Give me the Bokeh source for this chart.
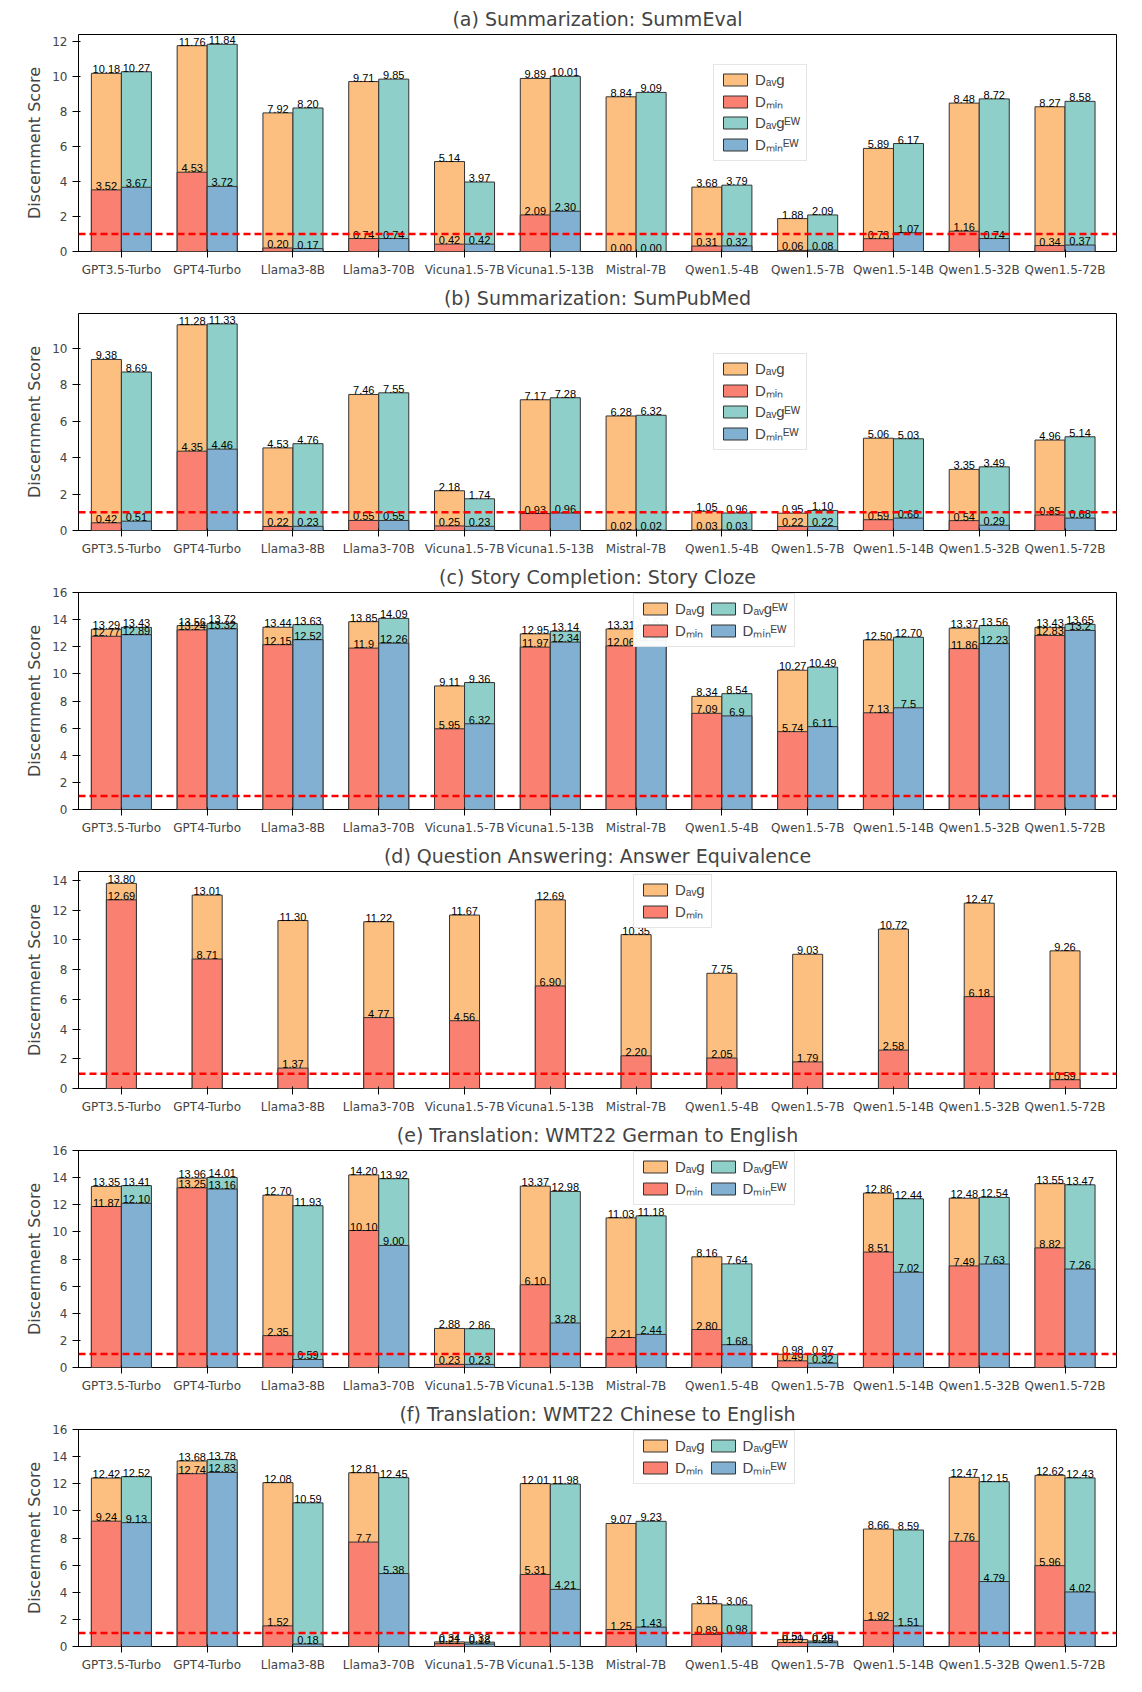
from bokeh.plotting import figure
from bokeh.layouts import column
from bokeh.models import ColumnDataSource, Span, Legend, LegendItem, FixedTicker
from bokeh.embed import file_html
from bokeh.resources import INLINE

models = ["GPT3.5-Turbo", "GPT4-Turbo", "Llama3-8B", "Llama3-70B", "Vicuna1.5-7B", "Vicuna1.5-13B",
          "Mistral-7B", "Qwen1.5-4B", "Qwen1.5-7B", "Qwen1.5-14B", "Qwen1.5-32B", "Qwen1.5-72B"]

# (a) SummEval
a_avg = [10.18, 11.76, 7.92, 9.71, 5.14, 9.89, 8.84, 3.68, 1.88, 5.89, 8.48, 8.27]
a_min = [3.52, 4.53, 0.20, 0.74, 0.42, 2.09, 0.00, 0.31, 0.06, 0.73, 1.16, 0.34]
a_ew_avg = [10.27, 11.84, 8.20, 9.85, 3.97, 10.01, 9.09, 3.79, 2.09, 6.17, 8.72, 8.58]
a_ew_min = [3.67, 3.72, 0.17, 0.74, 0.42, 2.30, 0.00, 0.32, 0.08, 1.07, 0.74, 0.37]
# (b) SumPubMed
b_avg = [9.38, 11.28, 4.53, 7.46, 2.18, 7.17, 6.28, 1.05, 0.95, 5.06, 3.35, 4.96]
b_min = [0.42, 4.35, 0.22, 0.55, 0.25, 0.93, 0.02, 0.03, 0.22, 0.59, 0.54, 0.85]
b_ew_avg = [8.69, 11.33, 4.76, 7.55, 1.74, 7.28, 6.32, 0.96, 1.10, 5.03, 3.49, 5.14]
b_ew_min = [0.51, 4.46, 0.23, 0.55, 0.23, 0.96, 0.02, 0.03, 0.22, 0.68, 0.29, 0.68]
# (c) Story Cloze
c_avg = [13.29, 13.56, 13.44, 13.85, 9.11, 12.95, 13.31, 8.34, 10.27, 12.50, 13.37, 13.43]
c_min = [12.77, 13.24, 12.15, 11.9, 5.95, 11.97, 12.06, 7.09, 5.74, 7.13, 11.86, 12.83]
c_ew_avg = [13.43, 13.72, 13.63, 14.09, 9.36, 13.14, 13.51, 8.54, 10.49, 12.70, 13.56, 13.65]
c_ew_min = [12.89, 13.32, 12.52, 12.26, 6.32, 12.34, 12.43, 6.9, 6.11, 7.5, 12.23, 13.2]
# (d) Answer Equivalence
d_avg = [13.80, 13.01, 11.30, 11.22, 11.67, 12.69, 10.35, 7.75, 9.03, 10.72, 12.47, 9.26]
d_min = [12.69, 8.71, 1.37, 4.77, 4.56, 6.90, 2.20, 2.05, 1.79, 2.58, 6.18, 0.59]
# (e) WMT22 German to English
e_avg = [13.35, 13.96, 12.70, 14.20, 2.88, 13.37, 11.03, 8.16, 0.98, 12.86, 12.48, 13.55]
e_min = [11.87, 13.25, 2.35, 10.10, 0.23, 6.10, 2.21, 2.80, 0.49, 8.51, 7.49, 8.82]
e_ew_avg = [13.41, 14.01, 11.93, 13.92, 2.86, 12.98, 11.18, 7.64, 0.97, 12.44, 12.54, 13.47]
e_ew_min = [12.10, 13.16, 0.59, 9.00, 0.23, 3.28, 2.44, 1.68, 0.32, 7.02, 7.63, 7.26]
# (f) WMT22 Chinese to English
f_avg = [12.42, 13.68, 12.08, 12.81, 0.34, 12.01, 9.07, 3.15, 0.51, 8.66, 12.47, 12.62]
f_min = [9.24, 12.74, 1.52, 7.7, 0.21, 5.31, 1.25, 0.89, 0.29, 1.92, 7.76, 5.96]
f_ew_avg = [12.52, 13.78, 10.59, 12.45, 0.32, 11.98, 9.23, 3.06, 0.40, 8.59, 12.15, 12.43]
f_ew_min = [9.13, 12.83, 0.18, 5.38, 0.18, 4.21, 1.43, 0.98, 0.28, 1.51, 4.79, 4.02]

# min labels printed with one decimal in the original (c: Story Cloze, f: Chinese)
short_c_min = {3: "11.9"}
short_c_ew_min = {7: "6.9", 9: "7.5", 11: "13.2"}
short_f_min = {3: "7.7"}

C_AVG, C_MIN, C_EWAVG, C_EWMIN = "#FDBF7F", "#FA8072", "#8ECFC9", "#82B0D2"
FONT = "DejaVu Sans"
W = 0.35


def labels(vals, short=None):
    short = short or {}
    return [short.get(i, f"{v:.2f}") for i, v in enumerate(vals)]


def panel(title, ymax, yticks, avg, mn, ew_avg=None, ew_min=None, legend_cols=1,
          legend_loc=(630, 90), short_min=None, short_ew_min=None):
    p = figure(width=1126, height=279, x_range=(-0.5, 11.6), y_range=(0, ymax),
               output_backend="svg", toolbar_location=None, min_border_left=78,
               min_border_right=10, min_border_top=4, min_border_bottom=4)
    p.title.text = title
    p.title.align = "center"
    p.title.text_font = FONT
    p.title.text_font_size = "19px"
    p.title.text_font_style = "normal"
    p.grid.visible = False
    p.outline_line_color = "black"
    p.yaxis.axis_label = "Discernment Score"
    p.yaxis.axis_label_text_font = FONT
    p.yaxis.axis_label_text_font_size = "16px"
    p.yaxis.axis_label_text_font_style = "normal"
    p.yaxis.ticker = FixedTicker(ticks=yticks)
    p.xaxis.ticker = FixedTicker(ticks=list(range(12)))
    p.xaxis.major_label_overrides = {i: m for i, m in enumerate(models)}
    for ax in (p.xaxis, p.yaxis):
        ax.major_label_text_font = FONT
        ax.major_label_text_font_size = "12px"
        ax.minor_tick_line_color = None
        ax.axis_line_color = None
    xs = list(range(12))
    off = W / 2 if ew_avg is not None else 0
    groups = [(avg, mn, -off, C_AVG, C_MIN, "Dₐᵥg", "Dₘᵢₙ", short_min)]
    if ew_avg is not None:
        groups.append((ew_avg, ew_min, off, C_EWAVG, C_EWMIN, "Dₐᵥgᴱᵂ", "Dₘᵢₙᴱᵂ", short_ew_min))
    li = []
    for top, low, o, ca, cm, la, lm, sh in groups:
        x = [i + o for i in xs]
        src = ColumnDataSource(dict(x=x, top=top, low=low, tl=labels(top), ll=labels(low, sh)))
        r1 = p.vbar(x="x", top="top", width=W, source=src, fill_color=ca, line_color="#333333")
        r2 = p.vbar(x="x", top="low", width=W, source=src, fill_color=cm, line_color="#333333")
        p.text(x="x", y="top", text="tl", source=src, text_align="center", text_baseline="bottom",
               text_font_size="11px")
        p.text(x="x", y="low", text="ll", source=src, text_align="center", text_baseline="bottom",
               text_font_size="11px")
        li += [LegendItem(label=la, renderers=[r1]), LegendItem(label=lm, renderers=[r2])]
    p.add_layout(Span(location=1, dimension="width", line_color="red", line_dash="7 4", line_width=2.5))
    leg = Legend(items=li, location=legend_loc, ncols=legend_cols)
    leg.label_text_font_size = "15px"
    leg.glyph_width = 30
    leg.glyph_height = 15
    leg.spacing = 3
    leg.border_line_color = "#cccccc"
    leg.padding = 6
    p.add_layout(leg)
    return p


pa = panel("(a) Summarization: SummEval", 12.4, [0, 2, 4, 6, 8, 10, 12], a_avg, a_min, a_ew_avg, a_ew_min, 1, (635, 90))
pb = panel("(b) Summarization: SumPubMed", 11.9, [0, 2, 4, 6, 8, 10], b_avg, b_min, b_ew_avg, b_ew_min, 1, (635, 80))
pc = panel("(c) Story Completion: Story Cloze", 16, [0, 2, 4, 6, 8, 10, 12, 14, 16], c_avg, c_min, c_ew_avg, c_ew_min, 2, (555, 162),
           short_c_min, short_c_ew_min)
pd_ = panel("(d) Question Answering: Answer Equivalence", 14.6, [0, 2, 4, 6, 8, 10, 12, 14], d_avg, d_min, None, None, 1, (555, 160))
pe = panel("(e) Translation: WMT22 German to English", 16, [0, 2, 4, 6, 8, 10, 12, 14, 16], e_avg, e_min, e_ew_avg, e_ew_min, 2, (555, 162))
pf = panel("(f) Translation: WMT22 Chinese to English", 16, [0, 2, 4, 6, 8, 10, 12, 14, 16], f_avg, f_min, f_ew_avg, f_ew_min, 2, (555, 162),
           short_f_min)

layout = column(pa, pb, pc, pd_, pe, pf, spacing=0)
open("out.html", "w", encoding="utf-8").write(file_html(layout, INLINE))
